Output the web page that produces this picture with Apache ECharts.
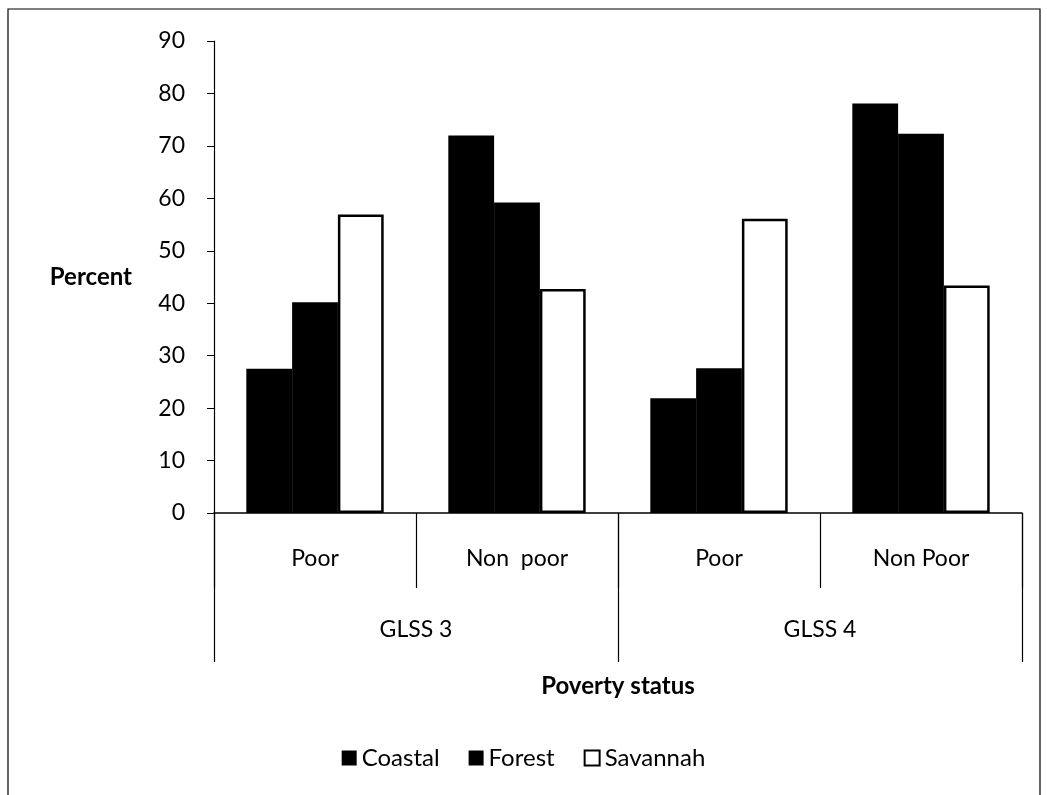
<!DOCTYPE html>
<html>
<head>
<meta charset="utf-8">
<script src="https://cdn.jsdelivr.net/npm/echarts@6/dist/echarts.min.js"></script>
<style>
html,body{margin:0;padding:0;background:#fff;}
#chart{width:1047px;height:795px;}
</style>
</head>
<body>
<div id="chart"></div>
<script>
var categories = ['Poor', 'Non  poor', 'Poor', 'Non Poor'];
var groups = ['GLSS 3', 'GLSS 4'];
var coastal = [27.5, 72.0, 21.9, 78.1];
var forest = [40.2, 59.2, 27.6, 72.3];
var savannah = [56.9, 42.7, 56.1, 43.4];
var yTicks = { min: 0, max: 90, interval: 10 };

var FONT = 'Lato';
var chart = echarts.init(document.getElementById('chart'));
chart.setOption({
  animation: false,
  backgroundColor: '#fff',
  textStyle: { fontFamily: FONT, color: '#000' },
  grid: { left: 214, right: 25, top: 41, bottom: 282, containLabel: false },
  legend: {
    top: 741, left: 'center',
    itemWidth: 15, itemHeight: 15, itemGap: 29,
    textStyle: { fontFamily: FONT, fontSize: 24, color: '#000' },
    data: [
      { name: 'Coastal', icon: 'rect' },
      { name: 'Forest', icon: 'rect' },
      { name: 'Savannah', icon: 'rect', itemStyle: { color: '#fff', borderColor: '#000', borderWidth: 2 } }
    ]
  },
  xAxis: [
    {
      type: 'category', data: categories, position: 'bottom',
      axisLine: { lineStyle: { color: '#000', width: 1.5 } },
      axisTick: { show: true, length: 75, interval: 0, lineStyle: { color: '#000', width: 1.2 } },
      axisLabel: { margin: 34, fontSize: 23, color: '#000', fontFamily: FONT, interval: 0 }
    },
    {
      type: 'category', data: groups, position: 'bottom', gridIndex: 0,
      axisLine: { show: false },
      axisTick: { show: true, length: 149, interval: 0, lineStyle: { color: '#000', width: 1.2 } },
      axisLabel: { margin: 105, fontSize: 23, color: '#000', fontFamily: FONT },
      name: 'Poverty status', nameLocation: 'middle', nameGap: 161,
      nameTextStyle: { fontSize: 24, fontWeight: 'bold', color: '#000', fontFamily: FONT }
    }
  ],
  yAxis: {
    type: 'value', min: yTicks.min, max: yTicks.max, interval: yTicks.interval,
    axisLine: { show: true, lineStyle: { color: '#000', width: 1.2 } },
    axisTick: { show: true, length: 7, lineStyle: { color: '#000' } },
    splitLine: { show: false },
    axisLabel: { margin: 29, fontSize: 23, color: '#000', fontFamily: FONT },
    name: 'Percent', nameLocation: 'middle', nameRotate: 0, nameGap: 82,
    nameTextStyle: { fontSize: 24, fontWeight: 'bold', color: '#000', fontFamily: FONT, align: 'right' }
  },
  series: [
    { name: 'Coastal', type: 'bar', data: coastal, barGap: '0%', barCategoryGap: '32%',
      itemStyle: { color: '#000' } },
    { name: 'Forest', type: 'bar', data: forest, barGap: '0%', barCategoryGap: '32%',
      itemStyle: { color: '#000' } },
    { name: 'Savannah', type: 'bar', data: savannah, barGap: '0%', barCategoryGap: '32%',
      itemStyle: { color: '#fff', borderColor: '#000', borderWidth: 2.5 } }
  ],
  graphic: [
    { type: 'rect', shape: { x: 8, y: 9, width: 1032, height: 800 },
      style: { fill: 'none', stroke: '#000', lineWidth: 1.2 }, silent: true }
  ]
});
</script>
</body>
</html>
